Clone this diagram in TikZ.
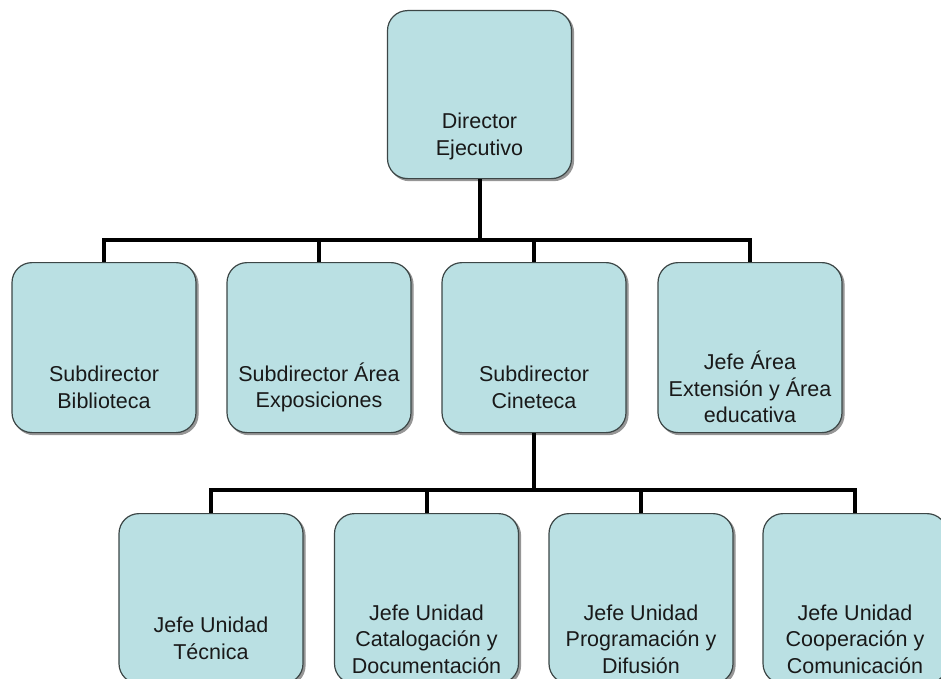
\documentclass[tikz,border=0pt]{standalone}
\usepackage{fontspec}
\setmainfont{Liberation Sans}
\usetikzlibrary{calc}
\definecolor{boxfill}{RGB}{186,224,227}
\definecolor{boxline}{RGB}{60,70,70}
\definecolor{shade}{RGB}{150,150,150}
\tikzset{
  orgbox/.style={draw=boxline, line width=1.2pt, fill=boxfill, rounded corners=20pt,
    minimum width=184pt, minimum height=168pt, inner sep=0pt, anchor=north,
    preaction={draw=shade, fill=shade, line width=1.2pt, transform canvas={shift={(2pt,-2pt)}}}},
  orgtext/.style={align=center, font=\fontsize{21.5}{26.5}\selectfont, text=black!90, inner sep=0pt},
  conn/.style={line width=4pt, black, line join=miter}
}
\begin{document}
\begin{tikzpicture}[x=1pt,y=-1pt]
\useasboundingbox (0,0) rectangle (941,679);
\clip (0,0) rectangle (941,679);
% level 1
\node[orgbox] (dir) at (479.5,10) {};
\node[orgtext] (dirt) at ($(dir.south)+(0,-43)$) {Director\\Ejecutivo};
% level 2
\node[orgbox,minimum height=170pt] (s1) at (104,262) {};
\node[orgbox,minimum height=170pt] (s2) at (319,262) {};
\node[orgbox,minimum height=170pt] (s3) at (534,262) {};
\node[orgbox,minimum height=170pt] (s4) at (750,262) {};
\node[orgtext] (s1t) at ($(s1.south)+(0,-46)$) {Subdirector\\Biblioteca};
\node[orgtext] (s2t) at ($(s2.south)+(0,-46)$) {Subdirector Área\\Exposiciones};
\node[orgtext] (s3t) at ($(s3.south)+(0,-46)$) {Subdirector\\Cineteca};
\node[orgtext] (s4t) at ($(s4.south)+(0,-46)$) {Jefe Área\\Extensión y Área\\educativa};
% level 3
\node[orgbox,minimum height=170pt] (u1) at (211,513) {};
\node[orgbox,minimum height=170pt] (u2) at (426.5,513) {};
\node[orgbox,minimum height=170pt] (u3) at (641,513) {};
\node[orgbox,minimum height=170pt] (u4) at (855,513) {};
\node[orgtext] (u1t) at ($(u1.south)+(0,-46)$) {Jefe Unidad\\Técnica};
\node[orgtext] (u2t) at ($(u2.south)+(0,-45)$) {Jefe Unidad\\Catalogación y\\Documentación};
\node[orgtext] (u3t) at ($(u3.south)+(0,-45)$) {Jefe Unidad\\Programación y\\Difusión};
\node[orgtext] (u4t) at ($(u4.south)+(0,-45)$) {Jefe Unidad\\Cooperación y\\Comunicación};
% connectors
\coordinate (b1) at (479.5,240);
\coordinate (b2) at (534,490);
\draw[conn] (dir.south) -- (b1);
\foreach \c in {s1,s2,s3,s4} \draw[conn] (b1) -| (\c.north);
\draw[conn] (s3.south) -- (b2);
\foreach \c in {u1,u2,u3,u4} \draw[conn] (b2) -| (\c.north);
\end{tikzpicture}
\end{document}
